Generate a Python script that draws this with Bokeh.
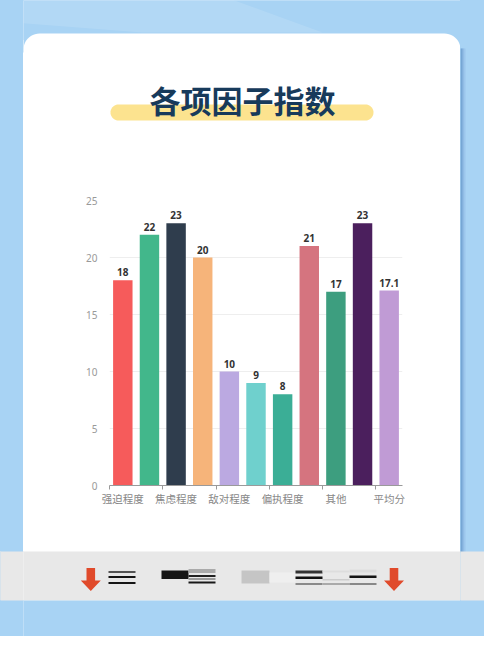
import numpy as np
from bokeh.plotting import figure
from bokeh.layouts import column, row
from bokeh.models import Range1d, FixedTicker, ColumnDataSource
from bokeh.core.properties import value
from bokeh.embed import file_html
from bokeh.resources import INLINE

# ---------------- data ----------------
TITLE = "各项因子指数"
categories = ["强迫程度", "抑郁程度", "焦虑程度", "人际关系", "敌对程度", "恐怖程度",
              "偏执程度", "精神病性", "其他", "躯体化", "平均分"]
values = [18, 22, 23, 20, 10, 9, 8, 21, 17, 23, 17.1]
value_labels = ["18", "22", "23", "20", "10", "9", "8", "21", "17", "23", "17.1"]
bar_colors = ["#f65b5b", "#42b78b", "#2f3d4d", "#f6b47a", "#bba9e1", "#6fd0cd",
              "#3bae96", "#d5747f", "#3d9e7f", "#4b1f5d", "#c09bd5"]
y_ticks = [0, 5, 10, 15, 20, 25]
shown_label_step = 2

# ---------------- style ----------------
BLUE = "#a8d3f4"
WHITE = "#ffffff"
GRAY = "#e8e8e8"
CJK = "Noto Sans CJK SC"
SHADOW = ["#5b8ec2", "#6c9cce", "#7eabd9", "#8fbae3", "#9cc6ec"]


def deco(w, h, x0, y0, bg):
    f = figure(width=w, height=h, x_range=Range1d(x0, x0 + w), y_range=Range1d(y0 + h, y0),
               output_backend="svg", toolbar_location=None, tools="",
               x_axis_location=None, y_axis_location=None, min_border=0,
               background_fill_color=bg, border_fill_color=bg, outline_line_color=None)
    f.grid.visible = False
    return f


def rrect(x0, y0, x1, y1, r, top=True, bottom=True):
    xs, ys = [], []
    t = np.linspace(0, np.pi / 2, 12)
    if top:
        xs += list(x0 + r - r * np.cos(t)); ys += list(y0 + r - r * np.sin(t))
        xs += list(x1 - r + r * np.sin(t)); ys += list(y0 + r - r * np.cos(t))
    else:
        xs += [x0, x1]; ys += [y0, y0]
    if bottom:
        xs += list(x1 - r + r * np.cos(t)); ys += list(y1 - r + r * np.sin(t))
        xs += list(x0 + r - r * np.sin(t)); ys += list(y1 - r + r * np.cos(t))
    else:
        xs += [x1, x0]; ys += [y1, y1]
    return xs, ys


# ---------------- side strips (full height) ----------------
left = deco(23, 636, 8, 8, BLUE)
left.quad(left=0, right=40, top=559, bottom=608, fill_color=GRAY, line_color=None)

right = deco(24, 636, 468, 8, BLUE)
for i, c in enumerate(SHADOW):
    right.quad(left=468 + i, right=469 + i, top=56, bottom=560, fill_color=c, line_color=None)
right.quad(left=460, right=500, top=559, bottom=608, fill_color=GRAY, line_color=None)

# ---------------- top of card (page y 8..195) ----------------
top = deco(437, 187, 31, 8, WHITE)
top.quad(left=20, right=480, top=0, bottom=60, fill_color=BLUE, line_color=None)
top.patch([20, 220, 330, 150, 20], [0, 0, 40, 40, 30], fill_color="#ffffff", fill_alpha=0.12, line_color=None)
xs, ys = rrect(31, 41, 468, 205, 16, top=True, bottom=False)
top.patch(xs, ys, fill_color=WHITE, line_color=None)
hx, hy = rrect(118, 112, 381, 128, 8)
top.patch(hx, hy, fill_color="#fce38f", line_color=None)
top.text(x=[250], y=[107], text=[TITLE], text_align="center", text_baseline="middle",
         text_font=value(CJK), text_font_style="bold", text_font_size="31px", text_color="#173a5b")

# ---------------- chart (page x 31..468, y 195..520) ----------------
n = len(categories)
idx = list(range(n))
src = ColumnDataSource(dict(x=idx, top=values, color=bar_colors, lab=value_labels))

chart = figure(width=437, height=325, x_range=Range1d(-0.5, n - 0.5), y_range=Range1d(0, 25),
               output_backend="svg", toolbar_location=None, tools="",
               min_border_left=86, min_border_right=58, min_border_top=13, min_border_bottom=27,
               background_fill_color=WHITE, border_fill_color=WHITE, outline_line_color=None)
chart.vbar(x="x", top="top", width=0.73, fill_color="color", line_color=None, source=src)
chart.text(x="x", y="top", text="lab", source=src, y_offset=-4, text_align="center",
           text_baseline="bottom", text_font=value("Noto Sans"), text_font_style="bold",
           text_font_size="10px", text_color="#333333")

chart.xgrid.visible = False
chart.ygrid.grid_line_color = "#eeeeee"
chart.ygrid.ticker = FixedTicker(ticks=y_ticks)

ya = chart.yaxis[0]
ya.ticker = FixedTicker(ticks=y_ticks)
ya.axis_line_color = None
ya.major_tick_line_color = None
ya.minor_tick_line_color = None
ya.major_label_text_color = "#999999"
ya.major_label_text_font_size = "10px"
ya.major_label_text_font = "Noto Sans"
ya.major_label_standoff = 6

xa = chart.xaxis[0]
shown = idx[::shown_label_step]
xa.ticker = FixedTicker(ticks=shown, minor_ticks=[i - 0.5 for i in shown])
xa.major_label_overrides = {i: categories[i] for i in shown}
xa.axis_line_color = "#9a9a9a"
xa.major_tick_line_color = None
xa.major_tick_in = 0
xa.major_tick_out = 0
xa.minor_tick_line_color = "#9a9a9a"
xa.minor_tick_in = 0
xa.minor_tick_out = 4
xa.major_label_standoff = 1
xa.major_label_text_color = "#888888"
xa.major_label_text_font = CJK
xa.major_label_text_font_size = "10.5px"

# ---------------- bottom of card + strip (page y 520..644) ----------------
bot = deco(437, 124, 31, 520, WHITE)
bot.quad(left=20, right=480, top=559, bottom=608, fill_color=GRAY, line_color=None)
bot.quad(left=20, right=480, top=608, bottom=660, fill_color=BLUE, line_color=None)

for cx in (98.3, 401.5):
    bot.patch([cx - 4.3, cx + 4.3, cx + 4.3, cx + 10, cx, cx - 10, cx - 4.3],
              [575.5, 575.5, 588, 588, 598.5, 588, 588], fill_color="#e04a2b", line_color=None)

marks = [
    (116, 143, 578.5, 580.5, "#555555"), (116, 143, 583.5, 585.5, "#151515"), (116, 143, 589.5, 591.5, "#151515"),
    (169, 196, 578, 586.5, "#161616"), (196, 223, 576.5, 580.5, "#aaaaaa"), (196, 223, 582.5, 584.5, "#202020"),
    (196, 223, 585.5, 587.5, "#999999"), (196, 223, 589, 591, "#181818"),
    (249, 277, 578, 591, "#c5c5c5"), (277, 303, 580, 590, "#efefef"),
    (303, 330, 578, 581, "#333333"), (303, 330, 584, 586.5, "#111111"), (303, 330, 590.5, 592.5, "#8a8a8a"),
    (330, 357, 578, 580, "#dddddd"), (330, 357, 586.5, 588, "#cccccc"), (330, 357, 590.5, 592.5, "#aaaaaa"),
    (357, 384, 577, 580, "#dddddd"), (357, 384, 583, 585.5, "#151515"), (357, 384, 590.5, 592.5, "#888888"),
]
bot.quad(left=[m[0] for m in marks], right=[m[1] for m in marks], top=[m[2] for m in marks],
         bottom=[m[3] for m in marks], fill_color=[m[4] for m in marks], line_color=None)

center_bg = (f"linear-gradient(to bottom, {BLUE} 0px, {BLUE} 40px, {WHITE} 40px, {WHITE} 551px, "
             f"{GRAY} 551px, {GRAY} 600px, {BLUE} 600px, {BLUE} 636px)")
outer_bg = (f"linear-gradient(to bottom, {BLUE} 0px, {BLUE} 551px, "
            f"{GRAY} 551px, {GRAY} 600px, {BLUE} 600px, {BLUE} 636px)")

center = column(top, row(chart), bot, styles={"background": center_bg})
layout = row(left, center, right, styles={"background": outer_bg})

open("out.html", "w").write(file_html(layout, INLINE))
